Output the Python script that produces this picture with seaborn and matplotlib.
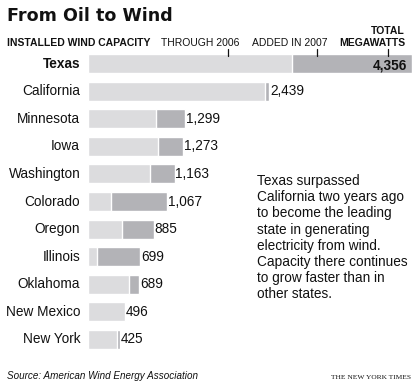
import matplotlib
matplotlib.use("Agg")
import matplotlib.pyplot as plt
import seaborn as sns
import pandas as pd

states = ["Texas", "California", "Minnesota", "Iowa", "Washington", "Colorado",
          "Oregon", "Illinois", "Oklahoma", "New Mexico", "New York"]
through_2006 = [2739, 2376, 910, 941, 834, 309, 457, 121, 551, 496, 390]
total_mw = [4356, 2439, 1299, 1273, 1163, 1067, 885, 699, 689, 496, 425]

LIGHT = "#dcdcde"
DARK = "#b3b3b7"

sns.set_theme(style="white")
plt.rcParams["font.family"] = ["Liberation Sans", "DejaVu Sans"]

df = pd.DataFrame({"state": states, "through": through_2006, "total": total_mw})

W, H = 419, 391
fig = plt.figure(figsize=(W / 100, H / 100), dpi=100)
x0, x1 = 88, 412
ytop, ybot = 50, 353
ax = fig.add_axes([x0 / W, 1 - ybot / H, (x1 - x0) / W, (ybot - ytop) / H])

sns.barplot(data=df, y="state", x="total", color=DARK, width=0.69,
            saturation=1, ax=ax, orient="h")
sns.barplot(data=df, y="state", x="through", color=LIGHT, width=0.69,
            saturation=1, ax=ax, orient="h")
ax.set_xlim(0, max(total_mw))
ax.set_ylim(len(states) - 0.5, -0.5)
ax.set_axis_off()

FS = 9.8
for i, (s, t) in enumerate(zip(states, total_mw)):
    bold = (i == 0)
    ax.text(-105, i, s, ha="right", va="center",
            fontsize=FS, fontweight="bold" if bold else "normal", color="#111111")
    lab = f"{t:,}"
    if i == 0:
        ax.text(t - 60, i + 0.05, lab, ha="right", va="center", fontsize=FS,
                fontweight="bold", color="#111111")
    else:
        ax.text(t + 12, i, lab, ha="left", va="center", fontsize=FS,
                color="#111111")

def fx(px):
    return px / W

def fy(py):
    return 1 - py / H

fig.text(fx(7), fy(21), "From Oil to Wind", fontsize=12.6, fontweight="bold",
         ha="left", va="baseline", color="#111111",
         family=["DejaVu Sans", "Liberation Sans"])
HS = 7.5
fig.text(fx(7), fy(46), "INSTALLED WIND CAPACITY", fontsize=HS, fontweight="bold",
         ha="left", va="baseline", color="#111111")
fig.text(fx(161), fy(46), "THROUGH 2006", fontsize=HS, ha="left", va="baseline",
         color="#111111")
fig.text(fx(252), fy(46), "ADDED IN 2007", fontsize=HS, ha="left", va="baseline",
         color="#111111")
fig.text(fx(405), fy(46), "MEGAWATTS", fontsize=HS, fontweight="bold",
         ha="right", va="baseline", color="#111111")
fig.text(fx(405), fy(34), "TOTAL", fontsize=HS, fontweight="bold",
         ha="right", va="baseline", color="#111111")
for tx in (228, 317, 388):
    fig.add_artist(plt.Line2D([fx(tx), fx(tx)], [fy(49), fy(56)],
                              color="#111111", lw=0.9, transform=fig.transFigure))

note = ("Texas surpassed\nCalifornia two years ago\nto become the leading\n"
        "state in generating\nelectricity from wind.\nCapacity there continues\n"
        "to grow faster than in\nother states.")
fig.text(fx(257), fy(174), note, fontsize=9.8, ha="left", va="top",
         linespacing=1.2, color="#111111")

fig.text(fx(7), fy(379), "Source: American Wind Energy Association", fontsize=7.1,
         style="italic", ha="left", va="baseline", color="#111111")
fig.text(fx(411), fy(379), "THE NEW YORK TIMES", fontsize=5.4, ha="right",
         va="baseline", color="#111111", family=["Liberation Serif", "DejaVu Serif"])

fig.savefig("out.png", dpi=100)
